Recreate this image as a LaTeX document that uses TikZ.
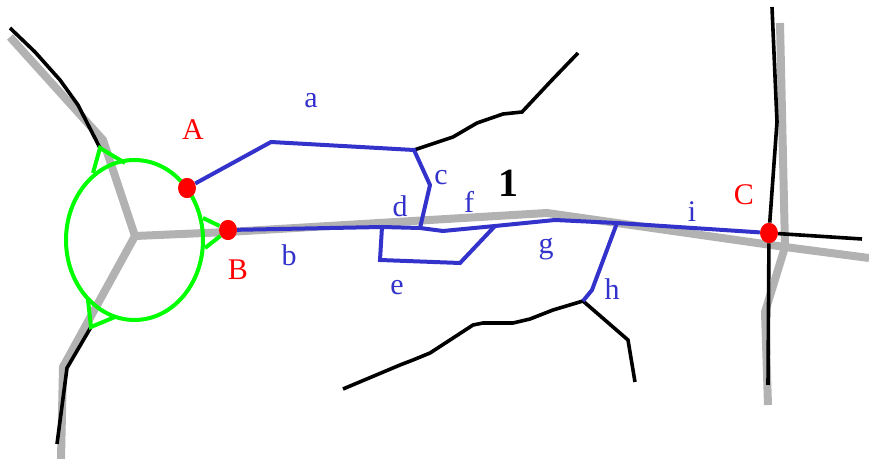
\documentclass[tikz,border=0pt]{standalone}
\usepackage{fontspec}
\setmainfont{Liberation Serif}
\usepackage{xcolor}
\usepackage{tikz}
\usetikzlibrary{positioning, shapes.geometric}

\definecolor{routeblue}{RGB}{51,51,204}

\begin{document}
\begin{tikzpicture}[x=0.5pt, y=-0.5pt,
		road/.style={line width=4pt, black!30, line join=miter},
		track/.style={line width=1.8pt, black},
		loopg/.style={line width=2pt, green},
		route/.style={line width=2pt, routeblue},
		dot/.style={ellipse, fill=red, inner sep=0pt, minimum width=8.8pt, minimum height=10pt},
		lbl/.style={text=routeblue, font=\fontsize{15}{18}\selectfont},
		plbl/.style={text=red, font=\fontsize{15}{18}\selectfont}]
		\useasboundingbox (0,0) rectangle (869,459);
		
		% Gray roads
		\draw[road] (10,37) -- (103,140) -- (135,236) -- (63,367) -- (61,459);
		\draw[road] (135,236) -- (228,232) -- (547,213) -- (785,247) -- (869,258);
		\draw[road] (780,23) -- (785,247) -- (765,312) -- (768,405);
		
		% Points
		\node[dot] (A) at (187,188) {};
		\node[dot] (B) at (228,230) {};
		\node[dot] (C) at (769,233) {};
		
		% Junctions on the route
		\coordinate (jA) at (271,142);
		\coordinate (jc) at (414,150);
		\coordinate (jc2) at (430,185);
		\coordinate (jd) at (420,228);
		\coordinate (je0) at (382,227);
		\coordinate (je1) at (380,260);
		\coordinate (je2) at (460,263);
		\coordinate (jf) at (495,226);
		\coordinate (jg) at (555,220);
		\coordinate (jh) at (617,223);
		\coordinate (jh1) at (592,290);
		\coordinate (jh2) at (583,301);
		\coordinate (tl) at (100,148);
		\coordinate (bl) at (91,327);
		
		% Black tracks
		\draw[track] (10,28) -- (35,52) -- (60,80) -- (78,105) -- (tl);
		\draw[track] (bl) -- (67,368) -- (57,444);
		\draw[track] (jc) -- (453,137) -- (477,123) -- (503,114) -- (522,112) -- (552,80) -- (578,53);
		\draw[track] (jh2) -- (628,340) -- (635,382);
		\draw[track] (jh2) -- (553,310) -- (530,319) -- (513,323) -- (483,323) -- (473,325)
		-- (450,340) -- (430,353) -- (413,360) -- (400,365) -- (343,389);
		\draw[track] (772,7) -- (777,122) -- (C) -- (768,385);
		\draw[track] (C) -- (862,239);
		
		% Green loop
		\draw[loopg] (134.5,240) ellipse [x radius=68.5, y radius=80];
		\draw[loopg] (93,173) -- (tl) -- (125,163);
		\draw[loopg] (88,300) -- (bl) -- (115,317);
		\draw[loopg] (203,218) -- (B) -- (205,248);
		
		% Blue route
		\draw[route] (A) -- (jA) -- (jc) -- (jc2) -- (jd);
		\draw[route] (B) -- (je0) -- (jd) -- (443,231) -- (jf) -- (jg) -- (jh) -- (C);
		\draw[route] (je0) -- (je1) -- (je2) -- (jf);
		\draw[route] (jh) -- (jh1) -- (jh2);
		
		% Redraw points on top
		\node[dot] at (A) {};
		\node[dot] at (B) {};
		\node[dot] at (C) {};
		
		% Labels
		\node[plbl] (lA) at (193,130) {A};
		\node[plbl] (lB) at (238,270) {B};
		\node[plbl] (lC) at (744,195) {C};
		\node[lbl] (la) at (311,101) {a};
		\node[lbl] (lb) at (289,255) {b};
		\node[lbl] (lc) at (441,178) {c};
		\node[lbl] (ld) at (400,206) {d};
		\node[lbl] (le) at (397,288) {e};
		\node[lbl] (lf) at (469,202) {f};
		\node[lbl] (lg) at (546,249) {g};
		\node[lbl] (lh) at (612,289) {h};
		\node[lbl] (li) at (692,212) {i};
		\node[font=\fontsize{20}{24}\selectfont\bfseries] (one) at (508,183) {1};
	\end{tikzpicture}
\end{document}
